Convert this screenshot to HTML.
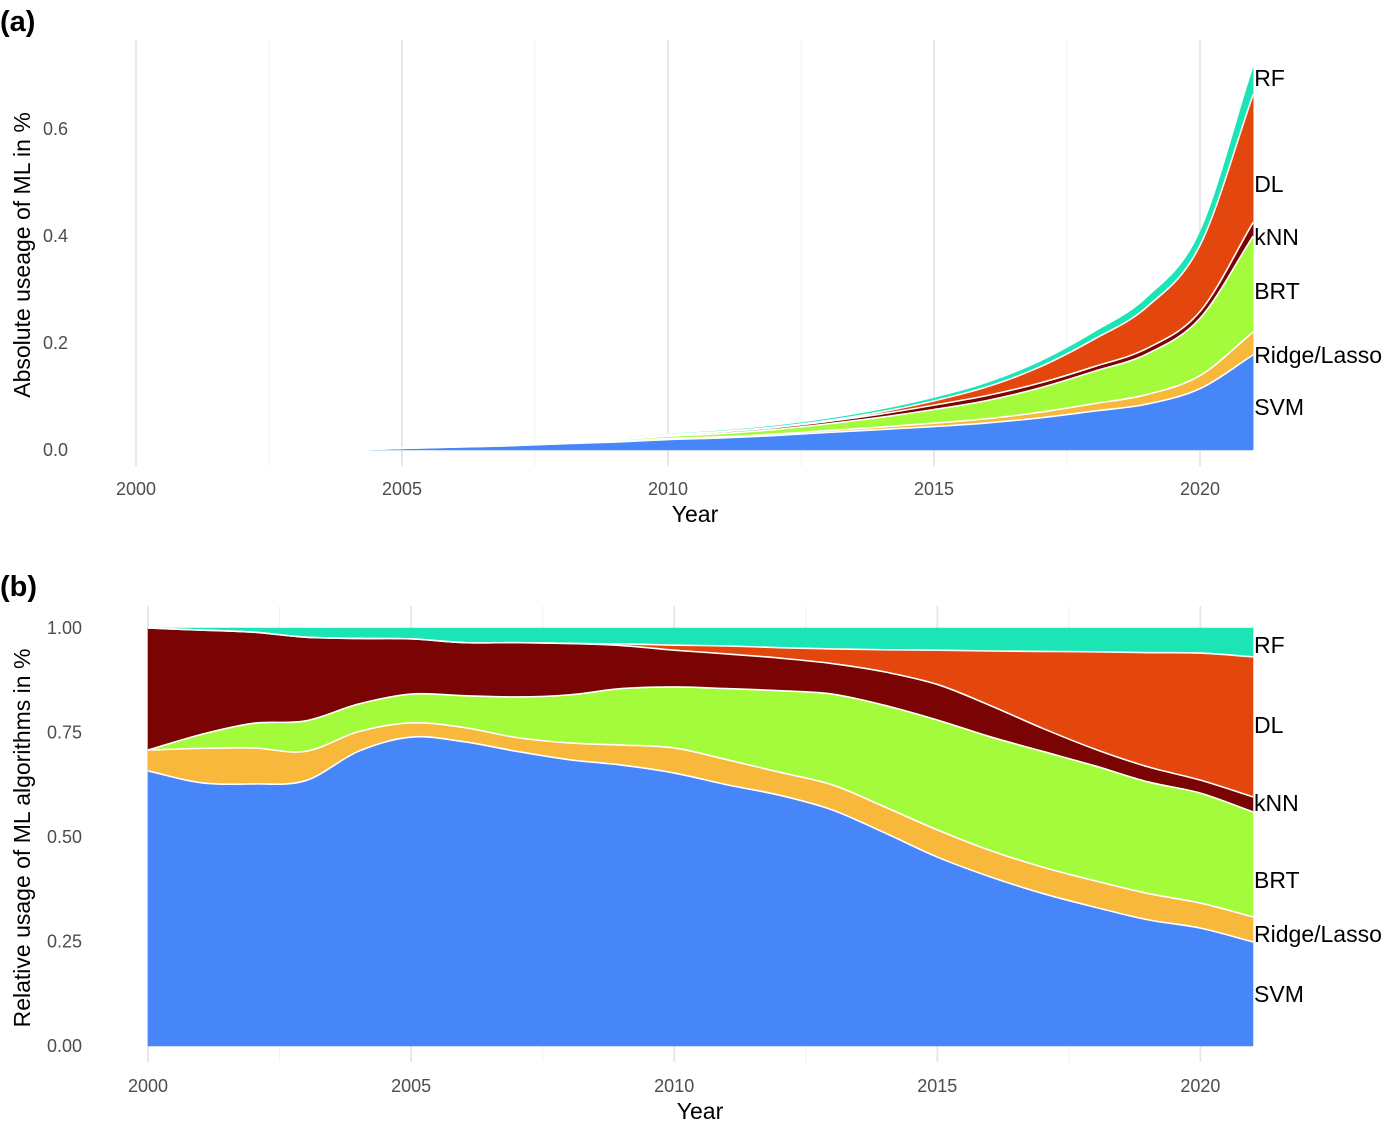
<!DOCTYPE html>
<html><head><meta charset="utf-8"><style>
body{margin:0;background:#fff;}
svg{display:block;font-family:"Liberation Sans",sans-serif;}
</style></head><body>
<svg id="chart" width="1392" height="1129" viewBox="0 0 1392 1129">
<text x="0" y="31" font-size="29" font-weight="bold">(a)</text>
<text x="0" y="596" font-size="29" font-weight="bold">(b)</text>
<g id="ga"></g>
<g id="gb"></g>
</svg>
<script>
const years = [2000,2001,2002,2003,2004,2005,2006,2007,2008,2009,2010,2011,2012,2013,2014,2015,2016,2017,2018,2019,2020,2021];
const seriesNames = ["SVM","Ridge/Lasso","BRT","kNN","DL","RF"];
const seriesColors = ["#4686f8","#f8b83c","#a4fb3c","#7a0403","#e3470d","#1be5b5"];
const shareSVM   = [.658,.630,.627,.635,.705,.739,.728,.705,.685,.672,.653,.625,.600,.565,.510,.452,.405,.365,.332,.302,.282,.249];
const shareRidge = [.050,.082,.086,.070,.047,.034,.034,.033,.040,.048,.060,.060,.055,.060,.062,.065,.063,.063,.063,.063,.060,.060];
const shareBRT   = [0,.033,.059,.073,.066,.069,.076,.097,.115,.135,.146,.170,.195,.217,.243,.263,.272,.277,.275,.267,.263,.251];
const shareKNN   = [.292,.250,.218,.200,.157,.132,.127,.130,.123,.103,.088,.083,.078,.073,.080,.085,.075,.055,.040,.036,.031,.036];
const shareDL    = [0,0,0,0,0,0,0,0,0,.004,.012,.019,.025,.035,.053,.082,.130,.184,.233,.273,.304,.335];
const shareRF    = [0,.005,.010,.022,.025,.026,.035,.035,.037,.038,.041,.043,.047,.050,.052,.053,.055,.056,.057,.059,.060,.069];
const yearsA = [2004,2005,2006,2007,2008,2009,2010,2011,2012,2013,2014,2015,2016,2017,2018,2019,2020,2021];
const totalA = [0,.004,.0075,.011,.017,.022,.030,.036,.045,.058,.075,.097,.125,.165,.219,.284,.407,.714];
const ticksXA = [2000,2005,2010,2015,2020];
const ticksYA = [0,0.2,0.4,0.6];
const ticksYALabels = ["0.0","0.2","0.4","0.6"];
const ticksYB = [0,0.25,0.5,0.75,1];
const ticksYBLabels = ["0.00","0.25","0.50","0.75","1.00"];
const labelPosA = [407,355,291,237,184,78];
const labelPosB = [994,934,880,803,725,645];

const NS="http://www.w3.org/2000/svg";
function mk(tag,attrs,parent){const e=document.createElementNS(NS,tag);for(const k in attrs)e.setAttribute(k,attrs[k]);parent.appendChild(e);return e;}
function tangents(xs,ys){const n=xs.length,d=[],m=new Array(n);
 for(let i=0;i<n-1;i++)d.push((ys[i+1]-ys[i])/(xs[i+1]-xs[i]));
 m[0]=d[0];m[n-1]=d[n-2];
 for(let i=1;i<n-1;i++){ m[i]=(d[i-1]+d[i])/2; }
 return m;}
function curve(xs,ys,move){const m=tangents(xs,ys);let p=(move?"M":"L")+xs[0].toFixed(2)+","+ys[0].toFixed(2);
 for(let i=0;i<xs.length-1;i++){const h=(xs[i+1]-xs[i])/3;
  p+="C"+(xs[i]+h).toFixed(2)+","+(ys[i]+m[i]*h).toFixed(2)+" "+(xs[i+1]-h).toFixed(2)+","+(ys[i+1]-m[i+1]*h).toFixed(2)+" "+xs[i+1].toFixed(2)+","+ys[i+1].toFixed(2);}
 return p;}

function panel(g,cfg){
 const {xs,yv,x1,gy0,gy1,stacks,ticksY,ticksYL,tickX,ylabX,yTitle,yTitleY,yearLabY,xTitleX,xTitleY,labPos,name}=cfg;
 for(let yr=2000;yr<=2021;yr+=2.5){const x=xs(yr),major=(yr%5===0);
  const l=mk("line",{x1:x,x2:x,y1:gy0,y2:gy1,stroke:major?"#e6e6e6":"#f2f2f2","stroke-width":major?1.8:1.2},g);
  
  }
 const xp=stacks.x.map(xs);
 const tops=[];let cum=stacks.x.map(()=>0);
 for(let s=0;s<stacks.vals.length;s++){const nc=cum.map((c,i)=>c+stacks.vals[s][i]);tops.push({lo:cum,hi:nc});cum=nc;}
 for(let s=0;s<tops.length;s++){
  const hiY=tops[s].hi.map(yv),loY=tops[s].lo.map(yv);
  const d=curve(xp,hiY,true)+curve(xp.slice().reverse(),loY.slice().reverse(),false)+"Z";
  const a=mk("path",{d:d,fill:seriesColors[s],stroke:seriesColors[s],"stroke-width":0.5},g);
  
  }
 for(let s=0;s<tops.length-1;s++){
  const l=mk("path",{d:curve(xp,tops[s].hi.map(yv),true),fill:"none",stroke:"#fff","stroke-width":1.6},g);
  
  }
 ticksY.forEach((v,i)=>{const t=mk("text",{x:ylabX,y:yv(v)+6,"font-size":18,fill:"#4d4d4d","text-anchor":"end"},g);t.textContent=ticksYL[i];
  
  });
 tickX.forEach(v=>{const t=mk("text",{x:xs(v),y:yearLabY,"font-size":18,fill:"#4d4d4d","text-anchor":"middle"},g);t.textContent=v;
  
  });
 const xt=mk("text",{x:xTitleX,y:xTitleY,"font-size":23,fill:"#000","text-anchor":"middle"},g);xt.textContent="Year";
 
 
 const yt=mk("text",{x:0,y:0,"font-size":23,fill:"#000","text-anchor":"middle",transform:"translate(30,"+yTitleY+") rotate(-90)"},g);yt.textContent=yTitle;
 
 
 seriesNames.forEach((n,i)=>{const t=mk("text",{x:x1+1,y:labPos[i]+8,"font-size":23,fill:"#000"},g);t.textContent=n;
  
  });
}
const shares=[shareSVM,shareRidge,shareBRT,shareKNN,shareDL,shareRF];
const off=years.indexOf(2004);
const absVals=shares.map(sh=>yearsA.map((y,i)=>totalA[i]*sh[off+i]));
const xA=y=>136+53.2*(y-2000), yA=v=>450-535*v;
const xB=y=>148+52.62*(y-2000), yB=v=>1046-418*v;
panel(document.getElementById('ga'),{xs:xA,yv:yA,x1:xA(2021),gy0:40,gy1:466,stacks:{x:yearsA,vals:absVals},ticksY:ticksYA,ticksYL:ticksYALabels,tickX:ticksXA,ylabX:68,yTitle:"Absolute useage of ML in %",yTitleY:255,yearLabY:495,xTitleX:695,xTitleY:522,labPos:labelPosA,name:'panel-a'});
panel(document.getElementById('gb'),{xs:xB,yv:yB,x1:xB(2021),gy0:606,gy1:1062,stacks:{x:years,vals:shares},ticksY:ticksYB,ticksYL:ticksYBLabels,tickX:ticksXA,ylabX:82,yTitle:"Relative usage of ML algorithms in %",yTitleY:838,yearLabY:1092,xTitleX:700,xTitleY:1119,labPos:labelPosB,name:'panel-b'});
</script>
</body></html>
